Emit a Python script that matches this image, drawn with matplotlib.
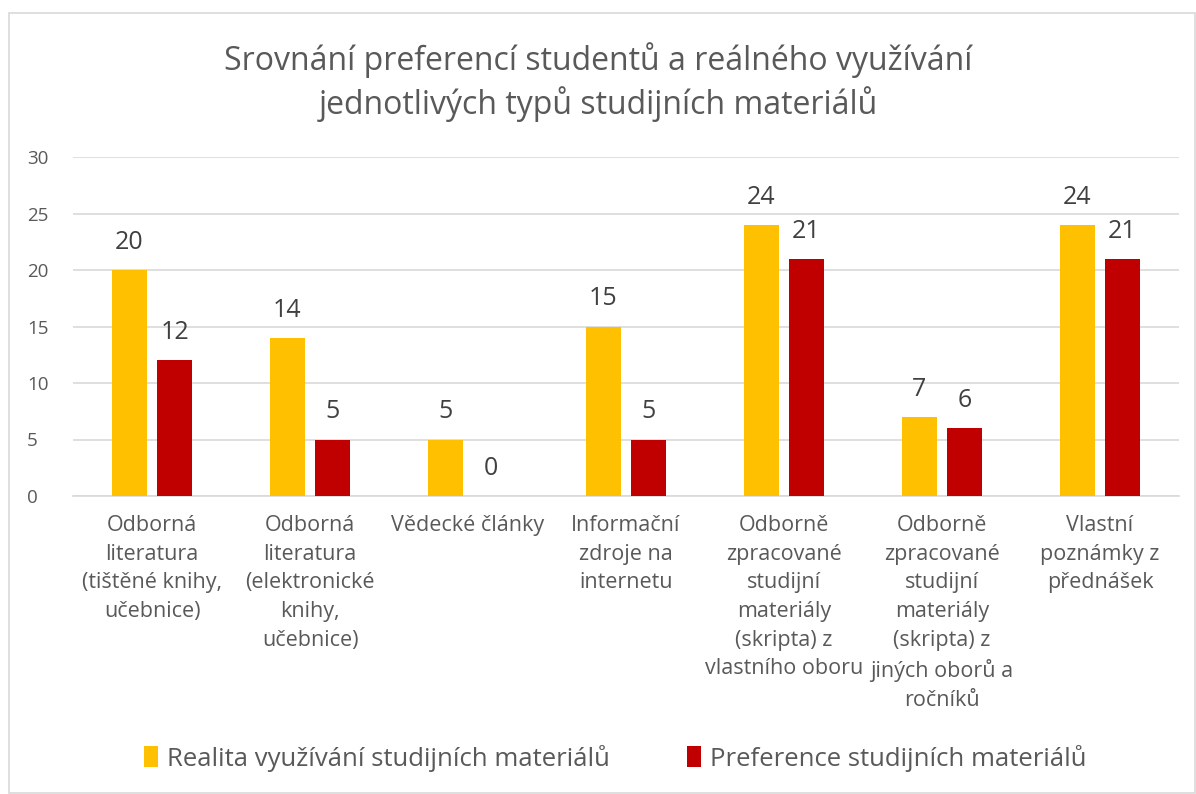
import matplotlib
matplotlib.use("Agg")
import matplotlib.pyplot as plt
import numpy as np
from matplotlib.patches import Rectangle

categories = [
    "Odborná\nliteratura\n(tištěné knihy,\nučebnice)",
    "Odborná\nliteratura\n(elektronické\nknihy,\nučebnice)",
    "Vědecké články",
    "Informační\nzdroje na\ninternetu",
    "Odborně\nzpracované\nstudijní\nmateriály\n(skripta) z\nvlastního oboru",
    "Odborně\nzpracované\nstudijní\nmateriály\n(skripta) z\njiných oborů a\nročníků",
    "Vlastní\npoznámky z\npřednášek",
]
realita = [20, 14, 5, 15, 24, 7, 24]
preference = [12, 5, 0, 5, 21, 6, 21]
series_names = ["Realita využívání studijních materiálů", "Preference studijních materiálů"]
title = "Srovnání preferencí studentů a reálného využívání\njednotlivých typů studijních materiálů"
yticks = [0, 5, 10, 15, 20, 25, 30]

plt.rcParams['font.family'] = ['Open Sans', 'DejaVu Sans']
txt = "#595959"
c1, c2 = "#FFC000", "#C00000"

fig = plt.figure(figsize=(11.96, 7.94), dpi=100)
fig.patches.append(Rectangle((9/1196, 1-793/794), 1186/1196, 780/794, transform=fig.transFigure,
                             fill=False, edgecolor="#d9d9d9", linewidth=1.2))
ax = fig.add_axes([73/1196, 1-496/794, (1179-73)/1196, (496-157)/794])

x = np.arange(len(categories))
w = 0.222
off = 0.143
b1 = ax.bar(x - off, realita, w, color=c1, label=series_names[0], zorder=3)
b2 = ax.bar(x + off, preference, w, color=c2, label=series_names[1], zorder=3)
for bars, vals in ((b1, realita), (b2, preference)):
    for r, v in zip(bars, vals):
        ax.text(r.get_x() + r.get_width()/2, v + 2.45, str(v), ha="center", va="center",
                fontsize=18, color="#404040")

ax.set_xlim(-0.5, len(categories) - 0.5)
ax.set_ylim(0, 30)
ax.set_yticks(yticks)
ax.yaxis.grid(True, color="#d9d9d9", linewidth=1.2, zorder=0)
ax.set_axisbelow(True)
for s in ["top", "right", "left"]:
    ax.spines[s].set_visible(False)
ax.spines["bottom"].set_color("#d9d9d9")
ax.spines["bottom"].set_linewidth(1.2)
ax.tick_params(axis="y", length=0, labelsize=13.5, colors=txt, pad=33)
for lab in ax.get_yticklabels():
    lab.set_horizontalalignment("left")
ax.tick_params(axis="x", length=0, pad=14)
ax.set_xticks(x)
ax.set_xticklabels(categories, fontsize=15.5, color=txt, linespacing=1.47, va="top")

fig.text(0.5, 1-82/794, title, ha="center", va="center", fontsize=23, color=txt, linespacing=1.3)

leg = fig.legend(handles=[b1, b2], labels=series_names, loc="center", bbox_to_anchor=(615/1196, 1-758/794),
                 ncol=2, frameon=False, fontsize=18.5, labelcolor=txt, handlelength=0.55, handleheight=0.9,
                 handletextpad=0.35, columnspacing=3.0)

fig.savefig("out.png", dpi=100)
